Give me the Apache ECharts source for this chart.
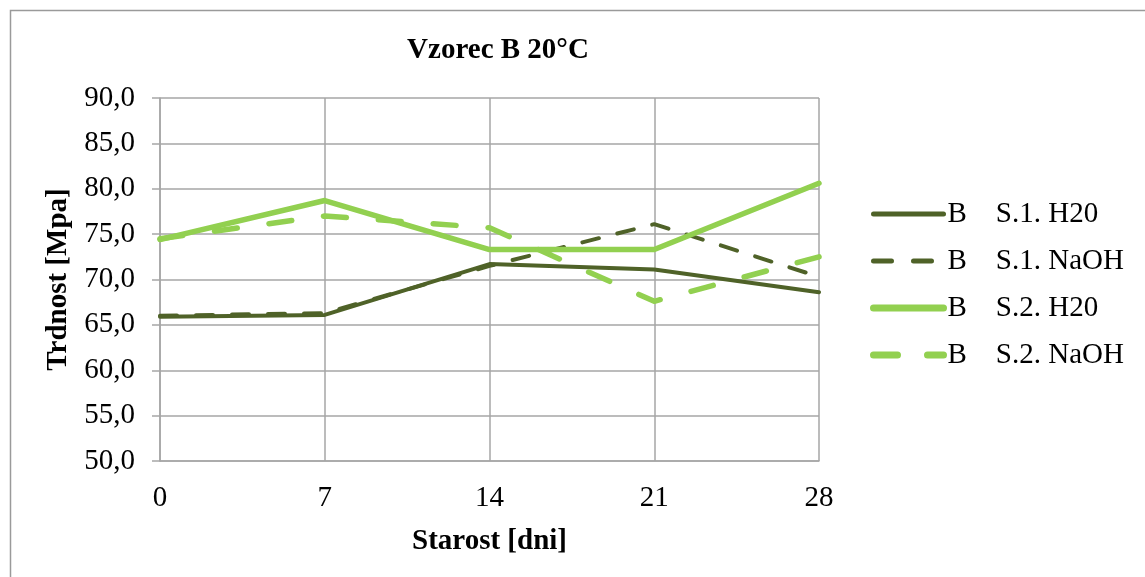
<!DOCTYPE html>
<html>
<head>
<meta charset="utf-8">
<script src="https://cdn.jsdelivr.net/npm/echarts@6/dist/echarts.min.js"></script>
<style>
html,body{margin:0;padding:0;background:#fff;}
#chart{width:1145px;height:577px;}
</style>
</head>
<body>
<div id="chart"></div>
<script>
const days = [0, 7, 14, 21, 28];
const seriesNames = ['B    S.1. H20', 'B    S.1. NaOH', 'B    S.2. H20', 'B    S.2. NaOH'];
const s1H20 = [65.9, 66.1, 71.7, 71.1, 68.6];
const s1NaOH = [66.0, 66.3, 71.5, 76.1, 70.3];
const s2H20 = [74.4, 78.7, 73.3, 73.3, 80.6];
const s2NaOH = [74.5, 77.0, 75.7, 67.6, 72.5];
const yTicks = [50, 55, 60, 65, 70, 75, 80, 85, 90];

const font = '"Liberation Serif", "Times New Roman", serif';
const dark = '#4F6228';
const light = '#92D050';
const fs = 29;
const pairs = arr => days.map((d, i) => [d, arr[i]]);

const chart = echarts.init(document.getElementById('chart'), null, {renderer: 'canvas'});
chart.setOption({
  animation: false,
  backgroundColor: '#fff',
  graphic: [{
    type: 'rect', position: [10.5, 10.5],
    shape: {x: 0, y: 0, width: 1160, height: 600},
    style: {fill: 'none', stroke: '#9a9a9a', lineWidth: 1.5}, silent: true, z: -10
  }],
  title: {
    text: 'Vzorec B 20°C',
    left: 493, top: 31, textAlign: 'center',
    textStyle: {fontFamily: font, fontWeight: 'bold', fontSize: fs, color: '#000'}
  },
  grid: {left: 160, top: 98, right: 326, bottom: 116},
  legend: {
    orient: 'vertical', left: 865, top: 194,
    itemWidth: 70, itemHeight: 20, itemGap: 17,
    itemStyle: {opacity: 0},
    textStyle: {fontFamily: font, fontSize: fs, color: '#000', lineHeight: 30, padding: [0, 0, 0, -1]},
    data: [
      {name: seriesNames[0], lineStyle: {color: dark, width: 5, cap: 'round'}},
      {name: seriesNames[1], lineStyle: {color: dark, width: 5, type: [18, 22], cap: 'round'}},
      {name: seriesNames[2], lineStyle: {color: light, width: 7, cap: 'round'}},
      {name: seriesNames[3], lineStyle: {color: light, width: 7, type: [24, 30], cap: 'round'}}
    ]
  },
  xAxis: {
    type: 'value', min: 0, max: 28, interval: 7,
    name: 'Starost [dni]', nameLocation: 'middle', nameGap: 66,
    nameTextStyle: {fontFamily: font, fontWeight: 'bold', fontSize: fs, color: '#000'},
    axisLine: {show: true, lineStyle: {color: '#a6a6a6', width: 1.5}},
    axisTick: {show: false},
    axisLabel: {fontFamily: font, fontSize: fs, color: '#000', margin: 23},
    splitLine: {show: true, lineStyle: {color: '#a6a6a6', width: 1.5}}
  },
  yAxis: {
    type: 'value', min: 50, max: 90, interval: 5,
    name: 'Trdnost [Mpa]', nameLocation: 'middle', nameGap: 84,
    nameTextStyle: {fontFamily: font, fontWeight: 'bold', fontSize: fs, color: '#000'},
    axisLine: {show: true, lineStyle: {color: '#a6a6a6', width: 1.5}},
    axisTick: {show: true, inside: false, length: 8, lineStyle: {color: '#a6a6a6', width: 1.5}},
    axisLabel: {fontFamily: font, fontSize: fs, color: '#000', margin: 25,
      formatter: v => yTicks.includes(v) ? v.toFixed(1).replace('.', ',') : ''},
    splitLine: {show: true, lineStyle: {color: '#a6a6a6', width: 1.5}}
  },
  series: [
    {name: seriesNames[0], type: 'line', data: pairs(s1H20), showSymbol: false, symbol: 'none',
     lineStyle: {color: dark, width: 4, cap: 'round', join: 'round'}, itemStyle: {color: dark}},
    {name: seriesNames[1], type: 'line', data: pairs(s1NaOH), showSymbol: false, symbol: 'none',
     lineStyle: {color: dark, width: 4, type: [17, 19], cap: 'round', join: 'round'}, itemStyle: {color: dark}},
    {name: seriesNames[2], type: 'line', data: pairs(s2H20), showSymbol: false, symbol: 'none',
     lineStyle: {color: light, width: 5.5, cap: 'round', join: 'round'}, itemStyle: {color: light}},
    {name: seriesNames[3], type: 'line', data: pairs(s2NaOH), showSymbol: false, symbol: 'none',
     lineStyle: {color: light, width: 5.5, type: [23, 32], cap: 'round', join: 'round'}, itemStyle: {color: light}}
  ]
});
</script>
</body>
</html>
